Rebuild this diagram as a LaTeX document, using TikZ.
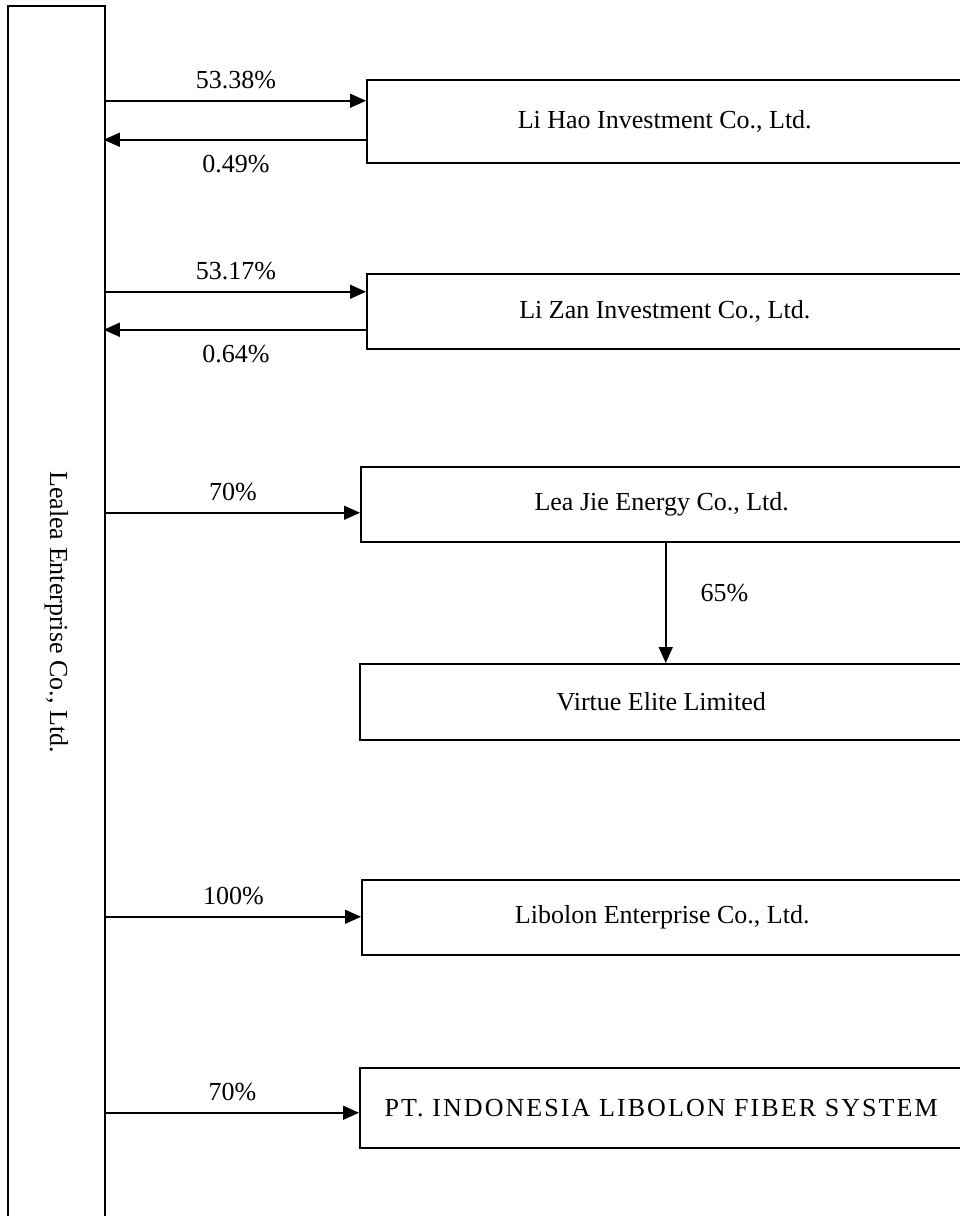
\documentclass[tikz,border=0pt]{standalone}
\usepackage{fontspec}
\setmainfont{Liberation Serif}
\usetikzlibrary{arrows.meta,positioning}
\tikzset{
  orgbox/.style={draw, line width=1.5pt, inner sep=0pt},
  share/.style={line width=1.5pt, -{Triangle[length=16pt,width=14pt]}},
  pct/.style={inner sep=0pt},
}
\begin{document}
\begin{tikzpicture}[x=1pt, y=-1pt, font=\fontsize{26}{31}\selectfont]
\useasboundingbox (0,0) rectangle (960,1216);
% parent
\node[orgbox, minimum width=97, minimum height=1212] (lealea) at (56.5,612) {};
\node[rotate=-90] (lealeaname) at (lealea.center) {Lealea Enterprise Co., Ltd.};
% subsidiaries
\node[orgbox, anchor=north west, minimum width=596, minimum height=83] (lihao) at (366,79) {Li Hao Investment Co., Ltd.};
\node[orgbox, anchor=north west, minimum width=596, minimum height=75] (lizan) at (366,273) {Li Zan Investment Co., Ltd.};
\node[orgbox, anchor=north west, minimum width=602, minimum height=75] (leajie) at (360,466) {Lea Jie Energy Co., Ltd.};
\node[orgbox, anchor=north west, minimum width=603, minimum height=76] (virtue) at (359,663) {Virtue Elite Limited};
\node[orgbox, anchor=north west, minimum width=601, minimum height=75] (libolon) at (361,879) {Libolon Enterprise Co., Ltd.};
\node[orgbox, anchor=north west, minimum width=603, minimum height=80] (pt) at (359,1067) {\addfontfeature{LetterSpace=8}PT. INDONESIA LIBOLON FIBER SYSTEM};
% cross holdings
\coordinate (lihaoin) at ([yshift=20.5pt]lihao.west);
\coordinate (lihaoout) at ([yshift=-18.5pt]lihao.west);
\coordinate (lizanin) at ([yshift=19.5pt]lizan.west);
\coordinate (lizanout) at ([yshift=-18.5pt]lizan.west);
\draw[share] (lealea.east |- lihaoin) -- node[pct, above=11pt] {53.38\%} (lihaoin);
\draw[share, shorten >=-2pt] (lihaoout) -- node[pct, below=15pt] {0.49\%} (lealea.east |- lihaoout);
\draw[share] (lealea.east |- lizanin) -- node[pct, above=11pt] {53.17\%} (lizanin);
\draw[share, shorten >=-2pt] (lizanout) -- node[pct, below=15pt] {0.64\%} (lealea.east |- lizanout);
% single holdings
\foreach \n/\s/\p in {leajie/-8.5/70, libolon/0.5/100, pt/-5/70}
{   \coordinate (\n in) at ([yshift=\s pt]\n.west);
    \draw[share] (lealea.east |- \n in) -- node[pct, above=11pt] {\p\%} (\n in);
}
\draw[share] ([xshift=4pt]leajie.south) -- node[pct, right=34pt, yshift=10pt] {65\%} ([xshift=4pt]leajie.south |- virtue.north);
\end{tikzpicture}
\end{document}
